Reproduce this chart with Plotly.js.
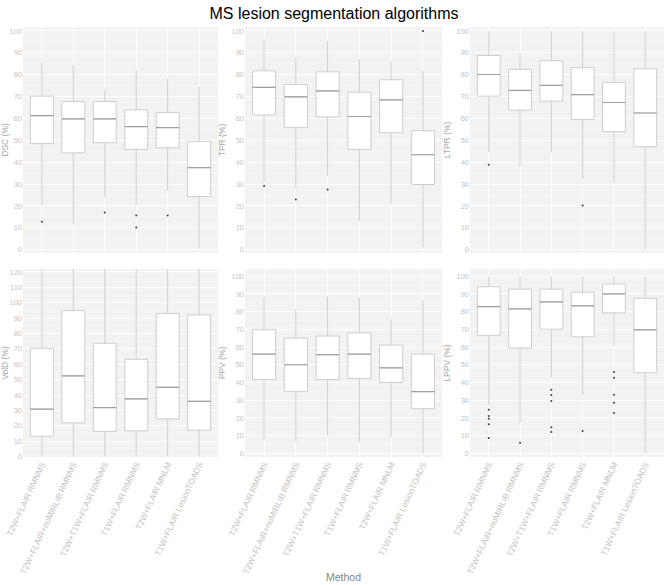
<!DOCTYPE html>
<html><head><meta charset="utf-8">
<script src="https://cdn.plot.ly/plotly-3.0.1.min.js"></script>
<style>html,body{margin:0;padding:0;background:#fff}#chart{width:668px;height:585px}</style>
</head><body><div id="chart"></div>
<script>
const methods = ['T2W+FLAIR RMNMS','T2W+FLAIR+noMIRLIB RMNMS','T2W+T1W+FLAIR RMNMS','T1W+FLAIR RMNMS','T2W+FLAIR MNLM','T1W+FLAIR LesionTOADS'];

const dscLo  = [20.2, 11.8, 24.0, 20.5, 27.1, 0.5];
const dscQ1  = [48.5, 44.3, 48.9, 45.9, 46.6, 24.3];
const dscMed = [61.3, 59.8, 59.8, 56.3, 55.8, 37.5];
const dscQ3  = [70.2, 67.7, 67.7, 63.9, 62.7, 49.5];
const dscHi  = [85.5, 84.1, 73.2, 82.1, 78.1, 74.5];
const dscOutMethod = [0, 2, 3, 3, 4];
const dscOutValue  = [12.8, 17.0, 15.6, 10.2, 15.6];

const tprLo  = [31.0, 27.8, 33.8, 13.0, 20.9, 1.1];
const tprQ1  = [61.6, 55.8, 60.7, 45.9, 53.5, 29.8];
const tprMed = [74.2, 69.9, 72.6, 60.9, 68.5, 43.4];
const tprQ3  = [81.8, 75.5, 81.3, 72.0, 77.7, 54.4];
const tprHi  = [96.2, 87.8, 95.4, 87.2, 85.9, 82.0];
const tprOutMethod = [0, 1, 2, 5];
const tprOutValue  = [29.1, 22.9, 27.5, 100];

const ltprLo  = [44.6, 38.2, 44.5, 32.3, 30.9, 0];
const ltprQ1  = [70.2, 63.8, 67.9, 59.5, 54.0, 47.1];
const ltprMed = [80.1, 72.8, 75.1, 70.9, 67.3, 62.5];
const ltprQ3  = [88.8, 82.4, 86.4, 83.2, 76.5, 82.7];
const ltprHi  = [100, 89.8, 100, 100, 100, 100];
const ltprOutMethod = [0, 3];
const ltprOutValue  = [38.8, 20.2];

const voldLo  = [0, 0, 0, 0, 0, 0];
const voldQ1  = [13.2, 21.9, 16.3, 16.7, 24.5, 17.1];
const voldMed = [30.8, 52.4, 31.8, 37.5, 45.0, 35.9];
const voldQ3  = [70.3, 94.9, 73.6, 63.2, 93.0, 92.1];
const voldHi  = [150, 190, 155, 130, 185, 195];
const voldOutMethod = [];
const voldOutValue  = [];

const ppvLo  = [7.6, 6.6, 10.0, 6.2, 9.2, 0];
const ppvQ1  = [41.7, 34.8, 41.7, 42.3, 40.0, 25.2];
const ppvMed = [56.0, 50.0, 55.7, 56.0, 48.3, 34.8];
const ppvQ3  = [69.8, 65.1, 66.2, 68.0, 61.1, 56.0];
const ppvHi  = [88.2, 81.6, 88.6, 87.8, 75.9, 86.3];
const ppvOutMethod = [];
const ppvOutValue  = [];

const lppvLo  = [27.0, 17.3, 42.7, 33.0, 61.0, 0];
const lppvQ1  = [66.6, 59.4, 70.1, 65.8, 79.3, 45.5];
const lppvMed = [82.9, 81.6, 85.5, 83.3, 90.0, 69.7];
const lppvQ3  = [94.1, 92.7, 92.7, 91.0, 95.7, 87.6];
const lppvHi  = [100, 100, 100, 100, 100, 100];
const lppvOutMethod = [0, 0, 0, 0, 0, 1, 2, 2, 2, 2, 2, 3, 4, 4, 4, 4, 4];
const lppvOutValue  = [24.6, 21.0, 19.5, 16.4, 8.7, 6.0, 35.9, 32.9, 29.5, 14.7, 12.0, 12.6, 45.9, 42.7, 33.1, 28.6, 22.7];

const panels = [
  {title:'DSC (%)',  lo:dscLo,  q1:dscQ1,  med:dscMed,  q3:dscQ3,  hi:dscHi,  om:dscOutMethod,  ov:dscOutValue,  range:[-1.5,101.8]},
  {title:'TPR (%)',  lo:tprLo,  q1:tprQ1,  med:tprMed,  q3:tprQ3,  hi:tprHi,  om:tprOutMethod,  ov:tprOutValue,  range:[-1.5,101.8]},
  {title:'LTPR (%)', lo:ltprLo, q1:ltprQ1, med:ltprMed, q3:ltprQ3, hi:ltprHi, om:ltprOutMethod, ov:ltprOutValue, range:[-1.5,101.8]},
  {title:'VolD (%)', lo:voldLo, q1:voldQ1, med:voldMed, q3:voldQ3, hi:voldHi, om:voldOutMethod, ov:voldOutValue, range:[-0.3,121.9]},
  {title:'PPV (%)',  lo:ppvLo,  q1:ppvQ1,  med:ppvMed,  q3:ppvQ3,  hi:ppvHi,  om:ppvOutMethod,  ov:ppvOutValue,  range:[-2.1,104.1]},
  {title:'LPPV (%)', lo:lppvLo, q1:lppvQ1, med:lppvMed, q3:lppvQ3, hi:lppvHi, om:lppvOutMethod, ov:lppvOutValue, range:[-2.1,104.1]}
];

const W = 668, H = 585;
const colX = [[23,218],[245,442],[470,664]];
const rowY = [[27,253],[269,457]];
const FONT = '"Liberation Sans", Arial, Helvetica, sans-serif';

const data = [];
const layout = {
  width: W, height: H,
  margin: {l:0, r:0, t:0, b:0},
  paper_bgcolor: '#ffffff',
  plot_bgcolor: '#f2f2f2',
  showlegend: false,
  font: {family: FONT},
  title: {text: 'MS lesion segmentation algorithms', font: {size: 16, color: '#000000', family: FONT},
          x: 0.5, xref: 'container', xanchor: 'center', y: 1 - 13/H, yref: 'container', yanchor: 'middle'},
  annotations: [{text: 'Method', xref: 'paper', yref: 'paper', x: (23+664)/2/W, y: 1 - 577/H,
                 xanchor: 'center', yanchor: 'middle', showarrow: false,
                 font: {size: 10.5, color: '#858585', family: FONT}}],
  boxmode: 'overlay'
};

panels.forEach((p, i) => {
  const n = i + 1;
  const xa = n === 1 ? 'x' : 'x' + n;
  const ya = n === 1 ? 'y' : 'y' + n;
  const col = i % 3, row = Math.floor(i / 3);
  const bottomRow = row === 1;

  data.push({
    type: 'box', x: methods, q1: p.q1, median: p.med, q3: p.q3,
    lowerfence: p.lo, upperfence: p.hi,
    xaxis: xa, yaxis: ya, boxpoints: false, whiskerwidth: 0, width: 0.73,
    fillcolor: '#ffffff', line: {color: '#cdcdcd', width: 1},
    hoverinfo: 'skip', showlegend: false
  });
  data.push({
    type: 'box', x: methods, q1: p.med, median: p.med, q3: p.med,
    lowerfence: p.med, upperfence: p.med,
    xaxis: xa, yaxis: ya, boxpoints: false, whiskerwidth: 0, width: 0.73,
    fillcolor: 'rgba(0,0,0,0)', line: {color: '#9e9e9e', width: 1.2},
    hoverinfo: 'skip', showlegend: false
  });
  if (p.om.length) {
    data.push({
      type: 'scatter', mode: 'markers', x: p.om.map(k => methods[k]), y: p.ov,
      xaxis: xa, yaxis: ya, marker: {size: 2, color: '#3a3a3a'},
      hoverinfo: 'skip', showlegend: false
    });
  }

  layout['xaxis' + (n === 1 ? '' : n)] = {
    domain: [colX[col][0]/W, colX[col][1]/W], anchor: ya,
    type: 'category', categoryorder: 'array', categoryarray: methods,
    range: [-0.6, 5.6], showgrid: true, gridcolor: '#ffffff', gridwidth: 1,
    zeroline: false, showline: false, ticks: '',
    showticklabels: bottomRow, tickangle: -65,
    tickfont: {size: 8.4, color: '#c2c2c2', family: FONT}
  };
  layout['yaxis' + (n === 1 ? '' : n)] = {
    domain: [1 - rowY[row][1]/H, 1 - rowY[row][0]/H], anchor: xa,
    range: p.range, tick0: 0, dtick: 10, showgrid: true, gridcolor: '#ffffff', gridwidth: 1,
    minor: {tick0: 0, dtick: 5, showgrid: true, gridcolor: '#f8f8f8', gridwidth: 0.6, ticks: ''},
    zeroline: false, showline: false, ticks: '',
    tickfont: {size: 7.5, color: '#c4c4c4', family: FONT},
    title: {text: p.title, font: {size: 8.5, color: '#a6a6a6', family: FONT}, standoff: 4}
  };
});

Plotly.newPlot('chart', data, layout, {staticPlot: true, displayModeBar: false});
</script>
</body></html>
